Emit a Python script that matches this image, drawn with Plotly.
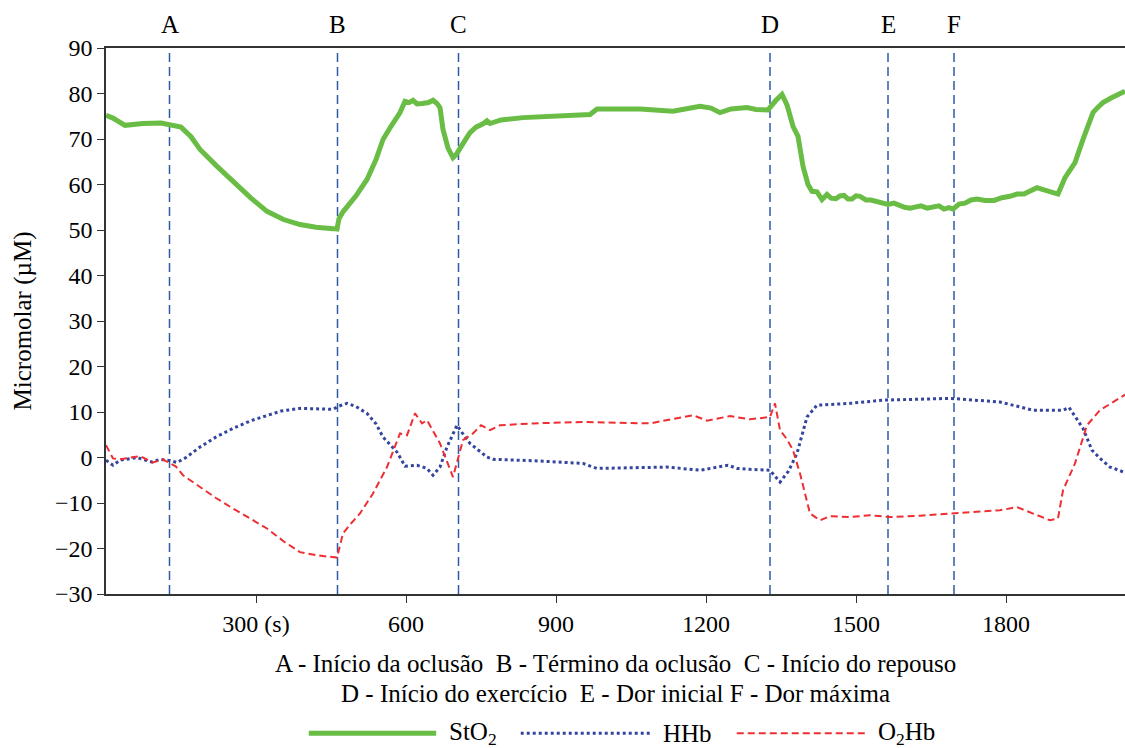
import plotly.graph_objects as go

# ---- data (time in s, concentration in µM) ----
sto2_t = [0, 14, 38, 74, 110, 134, 150, 170, 188, 220, 254, 290, 322, 355, 388, 420, 454, 462, 466, 474,
          500, 522, 540, 554, 570, 588, 598, 606, 614, 622, 632, 645, 654, 662, 668, 674, 684, 694, 700,
          708, 718, 728, 740, 755, 762, 768, 790, 834, 880, 934, 968, 982, 1068, 1134, 1160, 1188, 1210,
          1228, 1250, 1282, 1300, 1324, 1340, 1352, 1362, 1374, 1384, 1394, 1404, 1412, 1422, 1432, 1442,
          1450, 1460, 1468, 1476, 1484, 1492, 1500, 1508, 1520, 1530, 1545, 1564, 1576, 1586, 1597, 1608,
          1620, 1630, 1642, 1654, 1666, 1676, 1686, 1694, 1706, 1718, 1730, 1742, 1758, 1776, 1792, 1808,
          1822, 1836, 1850, 1862, 1876, 1890, 1904, 1918, 1938, 1954, 1964, 1974, 1984, 1994, 2010, 2038]
sto2_v = [75.2, 74.6, 73.0, 73.4, 73.5, 73.0, 72.6, 70.5, 67.7, 64.2, 60.7, 57.0, 54.1, 52.3, 51.2, 50.6,
          50.3, 50.2, 52.5, 54.0, 57.5, 61.1, 65.5, 69.9, 72.8, 75.8, 78.3, 78.0, 78.5, 77.7, 77.8, 78.0,
          78.5, 77.8, 76.9, 72.1, 68.0, 65.9, 66.5, 68.1, 69.7, 71.4, 72.6, 73.4, 74.0, 73.4, 74.2, 74.7,
          75.0, 75.4, 75.4, 76.6, 76.6, 76.1, 76.5, 77.2, 76.8, 75.8, 76.6, 76.9, 76.5, 76.4, 78.5, 79.8,
          77.5, 72.8, 70.6, 64.0, 60.0, 58.5, 58.4, 56.7, 57.8, 57.0, 56.9, 57.5, 57.6, 56.8, 56.8, 57.5,
          57.4, 56.6, 56.6, 56.1, 55.6, 55.9, 55.4, 55.0, 54.8, 55.2, 55.3, 54.8, 55.0, 55.3, 54.6, 54.9,
          54.6, 55.7, 55.9, 56.6, 56.8, 56.5, 56.5, 57.1, 57.4, 57.9, 57.9, 58.5, 59.3, 58.8, 58.4, 57.9,
          61.5, 64.8, 69.9, 72.5, 75.8, 77.0, 78.0, 79.0, 80.5]

hhb_t = [0, 14, 28, 62, 92, 108, 128, 142, 160, 188, 220, 254, 290, 322, 350, 388, 454, 466, 482, 500,
         522, 540, 554, 582, 598, 622, 642, 654, 668, 682, 702, 715, 728, 745, 762, 774, 854, 954, 982,
         1122, 1188, 1244, 1262, 1288, 1328, 1348, 1365, 1382, 1402, 1422, 1488, 1554, 1688, 1788, 1854,
         1914, 1926, 1934, 1954, 1972, 1988, 2008, 2038]
hhb_v = [-0.6, -1.7, -0.6, 0.0, -1.0, -0.4, -0.7, -1.1, 0.0, 2.3, 4.5, 6.4, 8.1, 9.3, 10.2, 10.8, 10.6,
         11.3, 11.9, 11.2, 9.7, 7.4, 4.5, 1.2, -1.9, -1.7, -2.4, -3.9, -2.1, 2.3, 7.1, 5.0, 3.1, 1.6, 0.1,
         -0.4, -0.7, -1.3, -2.4, -2.1, -2.8, -1.7, -2.4, -2.6, -2.8, -5.4, -3.0, 0.9, 8.9, 11.5, 11.9,
         12.6, 13.0, 12.2, 10.4, 10.4, 11.0, 9.7, 6.4, 1.6, -0.2, -2.1, -3.3]

o2hb_t = [0, 14, 28, 68, 94, 114, 128, 140, 154, 188, 220, 254, 290, 322, 355, 388, 422, 462, 474, 490,
          508, 534, 562, 588, 602, 618, 632, 642, 668, 694, 714, 734, 750, 768, 788, 854, 954, 1088, 1174,
          1202, 1248, 1288, 1328, 1338, 1348, 1362, 1374, 1388, 1408, 1428, 1448, 1488, 1528, 1568, 1628,
          1688, 1788, 1822, 1888, 1904, 1914, 1938, 1962, 1988, 2038]
o2hb_v = [2.7, -0.2, -0.4, 0.3, -1.1, -0.4, -1.3, -2.0, -3.9, -6.5, -8.9, -11.2, -13.6, -15.6, -18.4,
          -20.8, -21.5, -22.0, -16.7, -14.5, -12.3, -7.9, -2.1, 5.3, 4.9, 9.7, 7.5, 8.2, 3.1, -4.3, 3.8,
          5.3, 7.1, 6.0, 7.1, 7.5, 7.8, 7.5, 9.3, 8.1, 9.1, 8.4, 8.9, 11.9, 6.0, 4.0, 1.6, -3.5, -12.3,
          -13.8, -12.9, -13.1, -12.7, -13.1, -12.8, -12.3, -11.6, -10.9, -13.8, -13.4, -7.2, -1.3, 7.1,
          10.4, 13.8]

event_labels = ["A", "B", "C", "D", "E", "F"]
event_times = [127, 463, 705, 1328, 1564, 1696]

x_tickvals = [300, 600, 900, 1200, 1500, 1800]
x_ticktext = ["300 (s)", "600", "900", "1200", "1500", "1800"]
y_tickvals = [-30, -20, -10, 0, 10, 20, 30, 40, 50, 60, 70, 80, 90]

caption_1 = "A - Início da oclusão&nbsp; B - Término da oclusão&nbsp; C - Início do repouso"
caption_2 = "D - Início do exercício&nbsp; E - Dor inicial F - Dor máxima"

series_names = ["StO<sub>2</sub>", "HHb", "O<sub>2</sub>Hb"]
series_colors = ["#69bd45", "#34459e", "#ee2e32"]
series_widths = [5, 3, 2]
series_dashes = ["solid", "dot", "7px,4px"]

FONT = "Liberation Serif, Times New Roman, serif"
FS = 24      # tick labels
FT = 25      # other texts

fig = go.Figure()
for t, v, nm, c, w, d in zip([sto2_t, hhb_t, o2hb_t], [sto2_v, hhb_v, o2hb_v], series_names,
                             series_colors, series_widths, series_dashes):
    fig.add_trace(go.Scatter(x=t, y=v, mode="lines", name=nm, showlegend=False,
                             line=dict(color=c, width=w, dash=d)))

for lab, t in zip(event_labels, event_times):
    fig.add_vline(x=t, line=dict(color="#2e5aa6", width=1.5, dash="9px,5px"), layer="below")
    fig.add_annotation(x=t, y=1.0, xref="x", yref="paper", yshift=24, yanchor="middle", text=lab,
                       showarrow=False, font=dict(family=FONT, size=FT, color="black"))

fig.add_annotation(x=0.5, y=-0.127, xref="paper", yref="paper", text=caption_1, showarrow=False,
                   yanchor="middle", font=dict(family=FONT, size=FT, color="black"))
fig.add_annotation(x=0.5, y=-0.182, xref="paper", yref="paper", text=caption_2, showarrow=False,
                   yanchor="middle", font=dict(family=FONT, size=FT, color="black"))

# custom legend with long line samples (as in the original figure)
leg_y = -0.255
leg_line_x = [(0.199, 0.324), (0.407, 0.534), (0.619, 0.745)]
for (x0, x1), nm, c, w, d in zip(leg_line_x, series_names, series_colors, series_widths, series_dashes):
    fig.add_shape(type="line", xref="paper", yref="paper", x0=x0, x1=x1, y0=leg_y, y1=leg_y,
                  line=dict(color=c, width=w, dash=d))
    fig.add_annotation(x=x1 + 0.011, y=leg_y, xref="paper", yref="paper", text=nm, showarrow=False,
                       xanchor="left", yanchor="middle", font=dict(family=FONT, size=FT, color="black"))

fig.update_layout(
    width=1125, height=748,
    margin=dict(l=106, r=0, t=48, b=154),
    paper_bgcolor="white", plot_bgcolor="white",
    font=dict(family=FONT, size=FS, color="black"),
    showlegend=False,
)
fig.update_xaxes(range=[0, 2038], tickvals=x_tickvals, ticktext=x_ticktext, ticks="outside",
                 ticklen=7, tickcolor="#333", showline=True, linecolor="#333", linewidth=1.5,
                 mirror=True, showgrid=False, zeroline=False, tickfont=dict(family=FONT, size=FS))
fig.update_yaxes(range=[-30, 90], tickvals=y_tickvals, ticks="outside", ticklen=7, tickcolor="#333",
                 showline=True, linecolor="#333", linewidth=1.5, showgrid=False, zeroline=False,
                 title=dict(text="Micromolar (µM)", font=dict(family=FONT, size=FT), standoff=16),
                 tickfont=dict(family=FONT, size=FS))

fig.write_html("out.html", config={"displayModeBar": False},
               post_script="document.body.style.margin='0px';document.body.style.overflow='hidden';")
